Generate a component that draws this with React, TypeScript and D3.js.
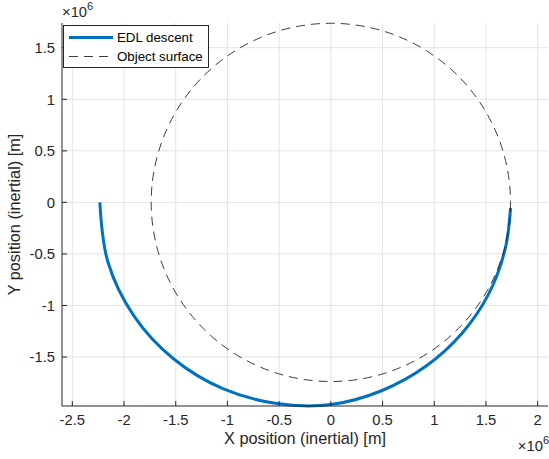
import React from "react";
import * as d3 from "d3";

// EDL descent trajectory samples (units of 1e6 m)
const trajX = [-2.234, -2.156, -1.905, -1.519, -1.044, -0.523, 0.0, 0.49, 0.918, 1.269, 1.529, 1.686, 1.738];
const trajY = [0, -0.578, -1.1, -1.519, -1.807, -1.951, -1.961, -1.827, -1.59, -1.269, -0.883, -0.452, -0.055];

// Surface radius of the body (units of 1e6 m)
const surfaceRadius = 1.7374;

const xTicks = [-2.5, -2, -1.5, -1, -0.5, 0, 0.5, 1, 1.5, 2];
const yTicks = [-1.5, -1, -0.5, 0, 0.5, 1, 1.5];
const legendLabels = ["EDL descent", "Object surface"];

const W = 549;
const H = 459;
const left = 62;
const right = 548;
const top = 23;
const bottom = 406;

const FONT = "'Liberation Sans', Arial, Helvetica, sans-serif";
const AX = "#262626";
const GRID = "#e3e3e3";
const BLUE = "#0072BD";

export default function App() {
  const x = d3.scaleLinear().domain([-2.6, 2.1]).range([left, right]);
  const y = d3.scaleLinear().domain([-1.975, 1.74]).range([bottom, top]);

  const pts: [number, number][] = trajX.map((v, i) => [v, trajY[i]]);
  const line = d3
    .line<[number, number]>()
    .x((d) => x(d[0]))
    .y((d) => y(d[1]))
    .curve(d3.curveCatmullRom.alpha(0.5));

  const rx = x(surfaceRadius) - x(0);
  const ry = y(0) - y(surfaceRadius);

  const fmt = (v: number) => String(v);

  return (
    <svg
      width={W}
      height={H}
      style={{ position: "absolute", left: 0, top: 0, background: "#fff" }}
      fontFamily={FONT}
    >
      <rect x={0} y={0} width={W} height={H} fill="#fff" />
      {/* grid */}
      <g stroke={GRID} strokeWidth={1}>
        {xTicks.map((t) => (
          <line key={"gx" + t} x1={x(t)} x2={x(t)} y1={top} y2={bottom} />
        ))}
        {yTicks.map((t) => (
          <line key={"gy" + t} x1={left} x2={right} y1={y(t)} y2={y(t)} />
        ))}
      </g>

      {/* trajectory */}
      <path d={line(pts) || ""} fill="none" stroke={BLUE} strokeWidth={3} />
      {/* surface */}
      <ellipse
        cx={x(0)}
        cy={y(0)}
        rx={rx}
        ry={ry}
        fill="none"
        stroke={AX}
        strokeWidth={0.9}
        strokeDasharray="9,6"
      />

      {/* axes */}
      <g stroke={AX} strokeWidth={1} fill="none">
        <line x1={left} x2={right} y1={bottom} y2={bottom} />
        <line x1={left} x2={left} y1={top} y2={bottom} />
        {xTicks.map((t) => (
          <line key={"tx" + t} x1={x(t)} x2={x(t)} y1={bottom} y2={bottom - 5} />
        ))}
        {yTicks.map((t) => (
          <line key={"ty" + t} x1={left} x2={left + 5} y1={y(t)} y2={y(t)} />
        ))}
      </g>

      {/* tick labels */}
      <g fill={AX} fontSize={14.8}>
        {xTicks.map((t) => (
          <text key={"lx" + t} x={x(t)} y={425} textAnchor="middle">
            {fmt(t)}
          </text>
        ))}
        {yTicks.map((t) => (
          <text key={"ly" + t} x={55} y={y(t) + 5.3} textAnchor="end">
            {fmt(t)}
          </text>
        ))}
      </g>

      {/* exponent labels */}
      <text x={549} y={451} textAnchor="end" fill={AX} fontSize={14.8}>
        ×10<tspan dy={-7} fontSize={11}>6</tspan>
      </text>
      <text x={62} y={17} textAnchor="start" fill={AX} fontSize={14.8}>
        ×10<tspan dy={-7} fontSize={11}>6</tspan>
      </text>

      {/* axis labels */}
      <text x={(left + right) / 2} y={444} textAnchor="middle" fill={AX} fontSize={16.3}>
        X position (inertial) [m]
      </text>
      <text
        transform={`translate(20,${(top + bottom) / 2}) rotate(-90)`}
        textAnchor="middle"
        fill={AX}
        fontSize={16.3}
      >
        Y position (inertial) [m]
      </text>

      {/* legend */}
      <g>
        <rect x={63.5} y={25.5} width={145} height={42} fill="#fff" stroke={AX} strokeWidth={1} />
        <line x1={69} x2={113} y1={37.5} y2={37.5} stroke={BLUE} strokeWidth={3} />
        <line x1={69} x2={113} y1={56.5} y2={56.5} stroke={AX} strokeWidth={0.9} strokeDasharray="9,6" />
        <text x={117} y={42.2} fill="#000" fontSize={13.3}>
          {legendLabels[0]}
        </text>
        <text x={117} y={61.2} fill="#000" fontSize={13.3}>
          {legendLabels[1]}
        </text>
      </g>
    </svg>
  );
}
